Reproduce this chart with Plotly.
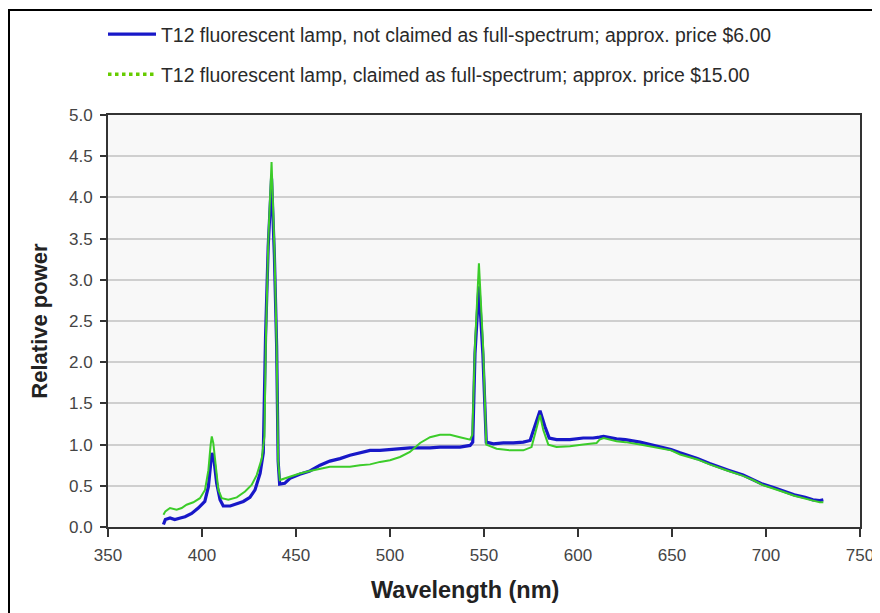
import plotly.graph_objects as go

# ---- data ----
wl_regular = [379.5, 380.5, 383, 385.5, 388.5, 391, 394.5, 398, 401.5, 403.4, 404.8, 405.3, 406.4,
              407.8, 409.6, 411.3, 415, 418.5, 422, 425.5, 428.2, 430.9, 432.6, 433.8, 435.2, 437,
              438.5, 439.7, 440.5, 441.3, 444, 446.8, 452, 457.4, 462.8, 468, 473.4, 478.7, 484,
              489.4, 494.7, 500, 505.3, 510.6, 516, 521.3, 526.6, 532, 537.2, 542.6, 544, 545.2,
              547.3, 549.4, 551.2, 555, 560.3, 565.6, 570.9, 574.5, 577.1, 579.8, 582.4, 584.7,
              588.6, 595.7, 602.8, 608, 611.5, 613.6, 620.5, 625.2, 633, 643.6, 649.5, 654.3,
              663.5, 670, 675.6, 680, 687.8, 693, 698.2, 704, 708.6, 715, 720.8, 725, 728.6, 730.5]
pw_regular = [0.03, 0.09, 0.11, 0.09, 0.11, 0.125, 0.165, 0.23, 0.31, 0.49, 0.81, 0.90, 0.81,
              0.53, 0.33, 0.255, 0.255, 0.28, 0.31, 0.36, 0.45, 0.65, 0.90, 2.3, 3.4, 4.23,
              3.3, 2.2, 0.8, 0.52, 0.53, 0.59, 0.64, 0.68, 0.75, 0.80, 0.83, 0.87, 0.90,
              0.93, 0.93, 0.94, 0.95, 0.96, 0.96, 0.96, 0.97, 0.97, 0.97, 0.99, 1.03, 2.1,
              2.92, 2.1, 1.03, 1.01, 1.02, 1.02, 1.03, 1.05, 1.22, 1.41, 1.22, 1.08,
              1.06, 1.06, 1.08, 1.08, 1.09, 1.10, 1.07, 1.06, 1.03, 0.97, 0.94, 0.90,
              0.83, 0.77, 0.73, 0.69, 0.63, 0.58, 0.52, 0.48, 0.44, 0.39, 0.36, 0.33, 0.32, 0.33]

wl_full = [379.5, 380.5, 383, 386.5, 389.2, 391.8, 395.4, 398.9, 401.6, 403.4, 404.6, 405.2, 406,
           407.4, 408.7, 410.5, 414, 418.5, 422.9, 426.4, 429.1, 431.8, 433.2, 434, 435.3, 437,
           438.5, 439.7, 440.5, 441.4, 446.8, 452, 457.4, 462.8, 468, 473.4, 478.7, 484, 489.4,
           494.7, 500, 505.3, 510.6, 516, 521.3, 526.6, 532, 537.2, 542.6, 543.8, 545.2, 547.3,
           549.5, 551.2, 556.7, 563.8, 570.9, 575.3, 578, 579.8, 581.5, 584.2, 588.6, 595.7,
           602.8, 609.9, 611.5, 613.6, 620.5, 625.2, 633, 643.6, 649.5, 654.3, 663.5, 670,
           675.6, 680, 687.8, 693, 698.2, 704, 708.6, 715, 720.8, 725, 728.6, 730.5]
pw_full = [0.15, 0.19, 0.23, 0.21, 0.23, 0.27, 0.30, 0.35, 0.45, 0.69, 1.0, 1.10, 1.02,
           0.69, 0.45, 0.35, 0.33, 0.36, 0.43, 0.51, 0.63, 0.83, 1.1, 2.3, 3.5, 4.43,
           3.4, 2.2, 0.8, 0.57, 0.61, 0.65, 0.68, 0.71, 0.73, 0.73, 0.73, 0.75, 0.76,
           0.79, 0.81, 0.85, 0.91, 1.02, 1.09, 1.12, 1.12, 1.09, 1.06, 1.12, 2.2, 3.20,
           2.2, 1.0, 0.95, 0.93, 0.93, 0.97, 1.20, 1.36, 1.18, 1.0, 0.97, 0.98,
           1.00, 1.02, 1.06, 1.08, 1.04, 1.03, 1.00, 0.95, 0.93, 0.88, 0.82, 0.76,
           0.72, 0.68, 0.62, 0.57, 0.51, 0.47, 0.43, 0.38, 0.35, 0.32, 0.30, 0.30]

name_regular = "T12 fluorescent lamp, not claimed as full-spectrum; approx. price $6.00"
name_full = "T12 fluorescent lamp, claimed as full-spectrum; approx. price $15.00"
x_title = "Wavelength (nm)"
y_title = "Relative power"

x_ticks = [350, 400, 450, 500, 550, 600, 650, 700, 750]
y_ticks = [0.0, 0.5, 1.0, 1.5, 2.0, 2.5, 3.0, 3.5, 4.0, 4.5, 5.0]

BLUE = "#1818c8"
GREEN = "#3ccc2a"
GREEN_LEG = "#66cc00"
FONT = "Liberation Sans, Arial, sans-serif"

# the page adds an 8px body margin, so the figure is sized/placed to compensate
W, H = 872, 605
L, R, T, B = 100, 20, 107, 86
PW, PH = W - L - R, H - T - B

fig = go.Figure()
fig.add_trace(go.Scatter(x=wl_regular, y=pw_regular, mode="lines", name=name_regular,
                         line=dict(color=BLUE, width=3.2), legendgroup="a"))
fig.add_trace(go.Scatter(x=wl_full, y=pw_full, mode="lines", name=name_full,
                         line=dict(color=GREEN, width=2), showlegend=False, legendgroup="b"))
fig.add_trace(go.Scatter(x=[None], y=[None], mode="lines", name=name_full,
                         line=dict(color=GREEN_LEG, width=3.5, dash="dot"), legendgroup="b"))

axis_common = dict(showline=True, linecolor="#333333", linewidth=2, mirror=True,
                   ticks="outside", tickcolor="#333333", tickwidth=1.5,
                   tickfont=dict(family=FONT, size=17, color="#444444"), zeroline=False)

fig.update_xaxes(range=[350, 750], tickvals=x_ticks, ticklen=8, showgrid=False,
                 ticklabelstandoff=4, **axis_common)
fig.update_yaxes(range=[0, 5], tickvals=y_ticks, tickformat=".1f", ticklen=6,
                 showgrid=True, gridcolor="#cfcfcf", gridwidth=1.5, ticklabelstandoff=4,
                 title=dict(text="<b>" + y_title + "</b>",
                            font=dict(family=FONT, size=22, color="#222222"), standoff=15),
                 **axis_common)

fig.update_layout(
    width=W, height=H,
    margin=dict(l=L, r=R, t=T, b=B, autoexpand=False),
    paper_bgcolor="white", plot_bgcolor="#f8f8f8",
    font=dict(family=FONT),
    legend=dict(x=(95 - L) / PW, xanchor="left", y=1 - 7 / H, yanchor="top", yref="container",
                font=dict(family=FONT, size=19.4, color="#2a2a2a"), itemwidth=48,
                tracegroupgap=12, bgcolor="rgba(0,0,0,0)"),
    annotations=[dict(text="<b>" + x_title + "</b>", xref="paper", yref="paper",
                      x=(457 - L) / PW, y=-(582 - T - PH) / PH, xanchor="center", yanchor="middle",
                      showarrow=False, font=dict(family=FONT, size=23.5, color="#222222"))],
    shapes=[dict(type="rect", xref="paper", yref="paper",
                 x0=(1 - L) / PW, x1=(869 - L) / PW,
                 y0=-0.3, y1=(PH + T - 2) / PH,
                 line=dict(color="black", width=2), fillcolor="rgba(0,0,0,0)", layer="below")],
)

fig.write_html("out.html")
